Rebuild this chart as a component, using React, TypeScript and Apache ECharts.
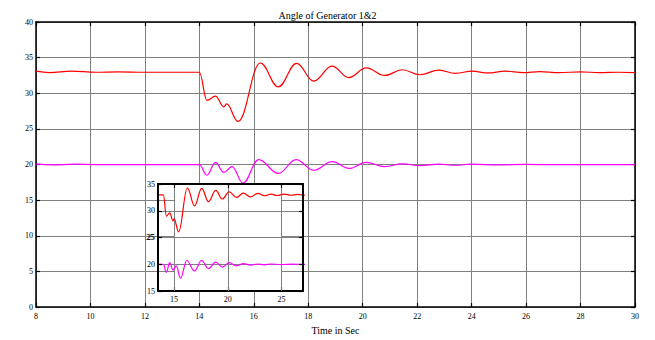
import React, { useEffect, useRef } from "react";
import * as echarts from "echarts";

// Generator 1 rotor angle (deg) vs time (s)
const timeGen1 = [8, 8.5, 9.3, 10.2, 11, 12, 13, 13.9, 14, 14.28, 14.59, 14.9, 15.0, 15.42, 16.24, 16.9, 17.57, 18.2, 18.87, 19.49, 20.13, 20.81, 21.45, 22.1, 22.8, 23.4, 24.02, 24.6, 25.23, 25.9, 26.5, 27.2, 28, 28.7, 29.4, 30];
const angleGen1 = [33.1, 32.9, 33.1, 32.95, 33.0, 32.95, 32.95, 32.95, 32.95, 29.0, 29.6, 28.1, 28.5, 26.06, 34.25, 30.9, 34.2, 31.7, 33.8, 32.2, 33.55, 32.5, 33.3, 32.6, 33.25, 32.8, 33.1, 32.85, 33.1, 32.9, 33.05, 32.9, 33.0, 32.9, 32.95, 32.9];

// Generator 2 rotor angle (deg) vs time (s)
const timeGen2 = [8, 8.6, 9.4, 10.3, 11, 12, 13, 13.9, 14, 14.28, 14.59, 14.9, 15.2, 15.6, 16.18, 16.9, 17.55, 18.2, 18.88, 19.5, 20.13, 20.8, 21.45, 22.1, 22.8, 23.4, 24.0, 25, 26, 27, 28, 29, 30];
const angleGen2 = [20.05, 19.95, 20.05, 19.98, 20.0, 20.0, 20.0, 20.0, 20.0, 18.5, 20.3, 18.9, 19.7, 17.4, 20.7, 18.75, 20.7, 19.2, 20.4, 19.45, 20.3, 19.7, 20.1, 19.85, 20.05, 19.9, 20.05, 19.95, 20.02, 19.98, 20.0, 19.98, 20.0];

// Axis ranges
const mainX = { min: 8, max: 30, interval: 2 };
const mainY = { min: 0, max: 40, interval: 5 };
const zoomX = { min: 13.5, max: 27 };
const zoomY = { min: 15, max: 35, interval: 5 };

// Zoomed-view ticks and grid lines
const zoomXTicks = [15, 20, 25];
const zoomYTicks = [15, 20, 25, 30, 35];
const zoomGridX = [15, 20, 25];
const zoomGridY = [20, 25, 30];
const zoomMidLabel = 25;

const FONT = "'Liberation Serif', 'Times New Roman', serif";

const pairs = (t: number[], v: number[]) => t.map((x, i) => [x, v[i]]);

export default function App() {
  const ref = useRef<HTMLDivElement>(null);

  useEffect(() => {
    if (!ref.current) return;
    const chart = echarts.init(ref.current, null, { renderer: "svg" });

    const frame = { show: true, onZero: false, lineStyle: { color: "#000", width: 1.5 } };
    const insetFrame = { show: true, onZero: false, lineStyle: { color: "#000", width: 2 } };
    const ticks = { show: true, inside: true, length: 4, lineStyle: { color: "#000", width: 1.2 } };
    const gridLine = { show: true, lineStyle: { color: "#808080", width: 1 } };
    const label = { color: "#000", fontFamily: FONT, fontSize: 8 };

    const gen1 = pairs(timeGen1, angleGen1);
    const gen2 = pairs(timeGen2, angleGen2);

    const lineSeries = (data: number[][], color: string, xi: number, yi: number, zlevel: number) => ({
      type: "line",
      data,
      xAxisIndex: xi,
      yAxisIndex: yi,
      showSymbol: false,
      smooth: 0.4,
      smoothMonotone: "x",
      clip: true,
      zlevel,
      z: 3,
      lineStyle: { color, width: 1.2 },
    });

    // grid lines of the zoomed view, placed through its own axes
    const zoomGridSeries = {
      type: "line",
      xAxisIndex: 2,
      yAxisIndex: 2,
      data: [[zoomGridX[1], zoomGridY[1]]],
      symbol: "none",
      silent: true,
      zlevel: 1,
      z: 2,
      markLine: {
        zlevel: 1,
        z: 2,
        silent: true,
        animation: false,
        symbol: ["none", "none"],
        label: { show: false },
        emphasis: { disabled: true },
        lineStyle: { color: "#808080", width: 1, type: "solid", opacity: 1 },
        data: [
          ...zoomGridX.map((v) => ({ xAxis: v })),
          ...zoomGridY.map((v) => ({
            yAxis: v,
            label: {
              show: v === zoomMidLabel,
              position: "start",
              distance: 4,
              formatter: "{c}",
              ...label,
            },
          })),
        ],
      },
    };

    chart.setOption({
      animation: false,
      backgroundColor: "#fff",
      title: {
        text: "Angle of Generator 1&2",
        left: "center",
        top: 5,
        textStyle: { fontFamily: FONT, fontSize: 10, fontWeight: "normal", color: "#000" },
      },
      grid: [
        { left: 36, right: 20, top: 22, bottom: 30, show: false },
        { left: 158, top: 184, width: 145, height: 107, show: false },
      ],
      xAxis: [
        {
          type: "value", gridIndex: 0, position: "bottom", ...mainX,
          axisLine: frame, axisTick: ticks, splitLine: gridLine,
          axisLabel: { ...label, margin: 5 },
          name: "Time in Sec", nameLocation: "middle", nameGap: 16,
          nameTextStyle: { fontFamily: FONT, fontSize: 10, color: "#000" },
        },
        {
          type: "value", gridIndex: 0, position: "top", ...mainX,
          axisLine: frame, axisTick: ticks, splitLine: { show: false }, axisLabel: { show: false },
        },
        {
          type: "value", gridIndex: 1, position: "bottom", ...zoomX, zlevel: 1, z: 1,
          axisLine: insetFrame,
          axisTick: { ...ticks, customValues: zoomXTicks },
          splitLine: { show: false },
          splitArea: { show: true, areaStyle: { color: ["#ffffff", "#ffffff"], opacity: 1 } },
          axisLabel: { ...label, margin: 4, customValues: zoomXTicks },
        },
        {
          type: "value", gridIndex: 1, position: "top", ...zoomX, zlevel: 1, z: 4,
          axisLine: insetFrame,
          axisTick: { ...ticks, customValues: zoomXTicks },
          splitLine: { show: false }, axisLabel: { show: false },
        },
      ],
      yAxis: [
        {
          type: "value", gridIndex: 0, position: "left", ...mainY,
          axisLine: frame, axisTick: ticks, splitLine: gridLine,
          axisLabel: { ...label, margin: 3 },
        },
        {
          type: "value", gridIndex: 0, position: "right", ...mainY,
          axisLine: frame, axisTick: ticks, splitLine: { show: false }, axisLabel: { show: false },
        },
        {
          type: "value", gridIndex: 1, position: "left", ...zoomY, zlevel: 1, z: 4,
          axisLine: insetFrame,
          axisTick: { ...ticks, customValues: zoomYTicks },
          splitLine: { show: false },
          axisLabel: { ...label, margin: 3, customValues: zoomYTicks, hideOverlap: false },
        },
        {
          type: "value", gridIndex: 1, position: "right", ...zoomY, zlevel: 1, z: 4,
          axisLine: insetFrame,
          axisTick: { ...ticks, customValues: zoomYTicks },
          splitLine: { show: false }, axisLabel: { show: false },
        },
      ],
      series: [
        lineSeries(gen1, "#ff0000", 0, 0, 0),
        lineSeries(gen2, "#ff00ff", 0, 0, 0),
        zoomGridSeries,
        lineSeries(gen1, "#ff0000", 2, 2, 1),
        lineSeries(gen2, "#ff00ff", 2, 2, 1),
      ],
    });

    return () => chart.dispose();
  }, []);

  return (
    <div
      ref={ref}
      style={{ position: "fixed", left: 0, top: 0, width: 655, height: 340, background: "#fff" }}
    />
  );
}
